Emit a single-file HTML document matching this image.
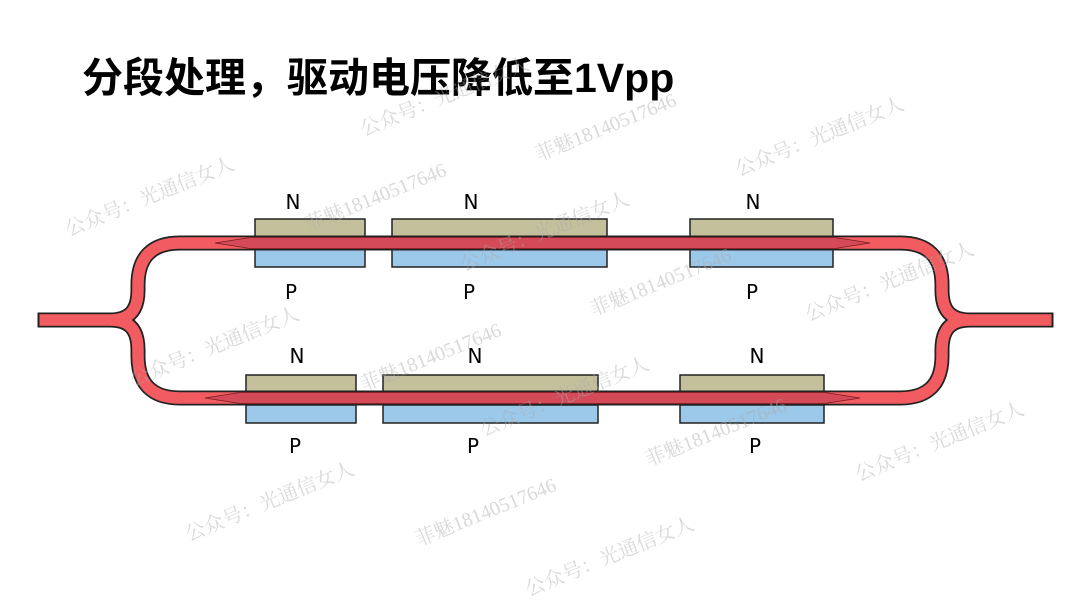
<!DOCTYPE html>
<html><head><meta charset="utf-8"><style>
html,body{margin:0;padding:0;background:#fff;}
body{width:1080px;height:607px;position:relative;overflow:hidden;font-family:"Liberation Sans","Noto Sans CJK SC",sans-serif;}
.t{position:absolute;left:82px;top:44px;font-size:41px;font-weight:bold;color:#000;white-space:nowrap;letter-spacing:0px;font-family:"Liberation Sans","Noto Sans CJK SC",sans-serif;}
.wm{position:absolute;color:rgba(170,170,170,0.45);font-family:"Liberation Serif","Noto Serif CJK SC",serif;font-size:20px;transform:rotate(-22deg);transform-origin:left top;white-space:nowrap;}
</style></head><body>
<div class="t">分段处理，驱动电压降低至1Vpp</div>
<svg width="1080" height="607" style="position:absolute;left:0;top:0">
<g fill="#c4c09c" stroke="#222" stroke-width="1.5">
<rect x="255" y="219" width="110" height="18"/><rect x="392" y="219" width="215" height="18"/><rect x="690" y="219" width="143" height="18"/>
<rect x="246" y="375" width="110" height="17"/><rect x="383" y="375" width="215" height="17"/><rect x="680" y="375" width="144" height="17"/>
</g>
<g fill="#9cc8ea" stroke="#222" stroke-width="1.5">
<rect x="255" y="249" width="110" height="18"/><rect x="392" y="249" width="215" height="18"/><rect x="690" y="249" width="143" height="18"/>
<rect x="246" y="405" width="110" height="18"/><rect x="383" y="405" width="215" height="18"/><rect x="680" y="405" width="144" height="18"/>
</g>
<g fill="none" stroke-linejoin="round">
<path d="M45 320 H110 C130 320 138 310 138 290 V285 Q138 243 180 243 H900 Q942 243 942 285 V290 C942 310 950 320 970 320 H1046 M110 320 C130 320 138 330 138 350 V356 Q138 398 180 398 H900 Q942 398 942 356 V350 C942 330 950 320 970 320" stroke="#222" stroke-width="15" stroke-linecap="square"/>
<path d="M39.5 320 H110 C130 320 138 310 138 290 V285 Q138 243 180 243 H900 Q942 243 942 285 V290 C942 310 950 320 970 320 H1051.5 M110 320 C130 320 138 330 138 350 V356 Q138 398 180 398 H900 Q942 398 942 356 V350 C942 330 950 320 970 320" stroke="#f25c60" stroke-width="11.5"/>
</g>
<polygon points="215,243 250,237.5 835,237.5 870,243 835,248.5 250,248.5" fill="#d44a58" stroke="#7a1a22" stroke-width="0.8"/>
<polygon points="205,398 240,392.5 825,392.5 860,398 825,403.5 240,403.5" fill="#d44a58" stroke="#7a1a22" stroke-width="0.8"/>
<g font-family="DejaVu Sans, sans-serif" font-size="20" fill="#000" text-anchor="middle">
<text x="293" y="209">N</text><text x="471" y="209">N</text><text x="753" y="209">N</text>
<text x="291" y="299">P</text><text x="469" y="299">P</text><text x="752" y="299">P</text>
<text x="297" y="363">N</text><text x="475" y="363">N</text><text x="757" y="363">N</text>
<text x="295" y="453">P</text><text x="473" y="453">P</text><text x="755" y="453">P</text>
</g>
</svg>
<div class="wm" style="left:60px;top:215px">公众号：光通信女人</div>
<div class="wm" style="left:300px;top:210px">菲魅18140517646</div>
<div class="wm" style="left:355px;top:115px">公众号：光通信女人</div>
<div class="wm" style="left:530px;top:140px">菲魅18140517646</div>
<div class="wm" style="left:730px;top:155px">公众号：光通信女人</div>
<div class="wm" style="left:455px;top:250px">公众号：光通信女人</div>
<div class="wm" style="left:585px;top:295px">菲魅18140517646</div>
<div class="wm" style="left:800px;top:300px">公众号：光通信女人</div>
<div class="wm" style="left:125px;top:365px">公众号：光通信女人</div>
<div class="wm" style="left:355px;top:370px">菲魅18140517646</div>
<div class="wm" style="left:475px;top:415px">公众号：光通信女人</div>
<div class="wm" style="left:640px;top:445px">菲魅18140517646</div>
<div class="wm" style="left:850px;top:460px">公众号：光通信女人</div>
<div class="wm" style="left:180px;top:520px">公众号：光通信女人</div>
<div class="wm" style="left:410px;top:525px">菲魅18140517646</div>
<div class="wm" style="left:520px;top:575px">公众号：光通信女人</div>
</body></html>
